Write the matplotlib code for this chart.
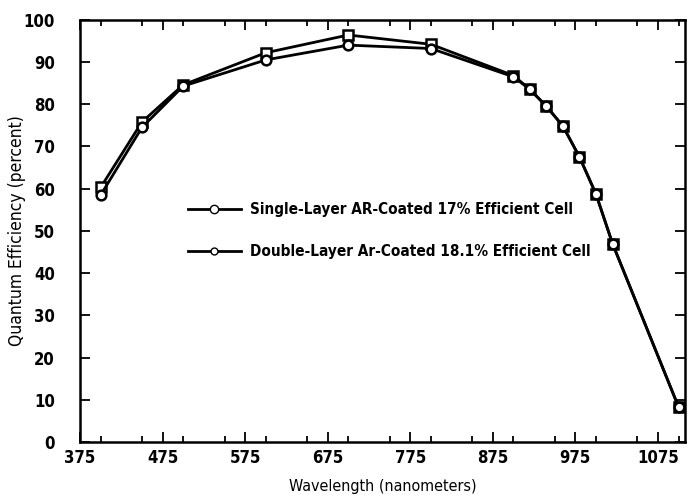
import matplotlib
matplotlib.use("Agg")
import matplotlib.pyplot as plt
from matplotlib.lines import Line2D
from matplotlib.ticker import MultipleLocator

# wavelength (nm) and quantum efficiency (%)
wavelength = [400, 450, 500, 600, 700, 800, 900, 920, 940, 960, 980, 1000, 1020, 1100]
single_layer = [58.5, 74.5, 84.3, 90.5, 94.0, 93.2, 86.5, 83.5, 79.5, 74.8, 67.5, 58.7, 47.0, 8.3]
double_layer = [60.3, 75.8, 84.6, 92.2, 96.4, 94.2, 86.8, 83.5, 79.5, 74.8, 67.5, 58.7, 47.0, 8.3]

x_ticks = [375, 475, 575, 675, 775, 875, 975, 1075]
y_ticks = list(range(0, 101, 10))
labels = ["Single-Layer AR-Coated 17% Efficient Cell",
          "Double-Layer Ar-Coated 18.1% Efficient Cell"]

plt.rcParams["font.family"] = ["DejaVu Sans"]
plt.rcParams["font.weight"] = "bold"
plt.rcParams["font.stretch"] = "condensed"

fig = plt.figure(figsize=(6.9, 4.95), dpi=100)
ax = fig.add_axes([0.116, 0.107, 0.877, 0.853])

ax.plot(wavelength, double_layer, color="black", lw=2, marker="s", ms=7,
        mfc="white", mec="black", mew=1.8, zorder=3)
ax.plot(wavelength, single_layer, color="black", lw=2, marker="o", ms=7,
        mfc="white", mec="black", mew=1.8, zorder=4)

ax.set_xlim(375, 1108)
ax.set_ylim(0, 100)
ax.set_xticks(x_ticks)
ax.set_yticks(y_ticks)
ax.xaxis.set_minor_locator(MultipleLocator(50))
ax.tick_params(direction="in", which="both", top=True, right=True,
               labelsize=12, width=1.3)
ax.tick_params(axis="y", pad=18)
ax.tick_params(axis="x", pad=5)
ax.tick_params(which="major", length=7)
ax.tick_params(which="minor", length=4)
for sp in ax.spines.values():
    sp.set_linewidth(1.8)

ax.set_xlabel("Wavelength (nanometers)", fontsize=11.5, fontweight="normal", labelpad=9)
ax.set_ylabel("Quantum Efficiency (percent)", fontsize=12.5, fontweight="normal")
ax.yaxis.set_label_coords(-0.09, 0.5)

handles = [
    Line2D([], [], color="black", lw=2, marker="o", ms=6, mfc="white", mec="black"),
    Line2D([], [], color="black", lw=2, marker="o", ms=5, mfc="white", mec="black"),
]
ax.legend(handles, labels, loc="upper left", bbox_to_anchor=(0.155, 0.6),
          frameon=False, fontsize=11, labelspacing=1.75, handlelength=3.5,
          handletextpad=0.6)

fig.savefig("out.png", dpi=100)
